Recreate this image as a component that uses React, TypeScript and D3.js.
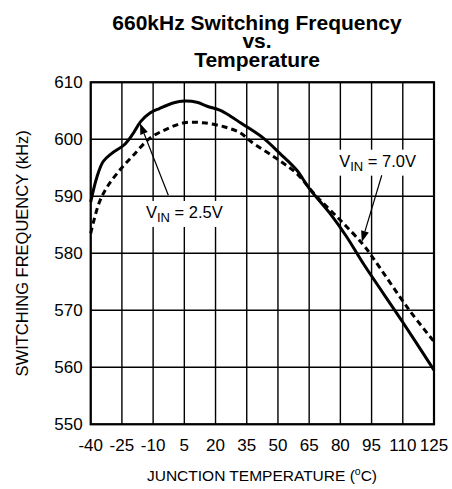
import React from "react";
import * as d3 from "d3";

const titleLines = ["660kHz Switching Frequency", "vs.", "Temperature"];
const xTicks = [-40, -25, -10, 5, 20, 35, 50, 65, 80, 95, 110, 125];
const yTicks = [550, 560, 570, 580, 590, 600, 610];

// VIN = 2.5V (solid)
const solidT = [-40, -37, -34, -30, -24, -20, -16, -11.5, -7, 0, 5, 11, 16, 22, 27, 32, 35, 43, 51, 59, 65, 75, 83, 91, 110, 125];
const solidV = [589.0, 593.4, 596.1, 597.5, 599.0, 600.8, 603.1, 604.6, 605.4, 606.4, 606.7, 606.5, 605.8, 605.1, 604.1, 602.9, 602.2, 600.2, 597.5, 594.6, 591.4, 587.0, 582.9, 578.2, 567.9, 559.5];

// VIN = 7.0V (dashed)
const dashT = [-40, -36, -32, -26, -19.5, -11.5, -3.5, 5, 14, 24, 32, 37, 49, 59, 68, 80, 91, 97, 113, 125];
const dashV = [583.5, 588.8, 591.7, 594.6, 597.2, 600.2, 601.8, 602.9, 602.9, 602.2, 601.1, 599.6, 596.7, 594.0, 590.2, 585.8, 581.5, 578.5, 570.1, 564.5];

// annotations (data units)
const annoLabels = ["2.5V", "7.0V"];
const annoLabelT = [5.0, 97.9];
const annoLabelV = [586.2, 595.2];
const arrowFromT = [-2.7, 99.9];
const arrowFromV = [590.2, 593.7];
const arrowToT = [-16.3, 90.3];
const arrowToV = [602.8, 582.0];

const W = 452, H = 489;
const M = { left: 90.7, right: 434, top: 82.3, bottom: 424.3 };
const FONT = "'Liberation Sans', Arial, Helvetica, sans-serif";

export default function App() {
  const x = d3.scaleLinear().domain([-40, 125]).range([M.left, M.right]);
  const y = d3.scaleLinear().domain([550, 610]).range([M.bottom, M.top]);
  const line = d3.line<[number, number]>().x(d => x(d[0])).y(d => y(d[1])).curve(d3.curveCatmullRom.alpha(0.5));
  const solidPts = solidT.map((t, i) => [t, solidV[i]] as [number, number]);
  const dashPts = dashT.map((t, i) => [t, dashV[i]] as [number, number]);

  const arrows = annoLabels.map((_, i) => {
    const x1 = x(arrowFromT[i]), y1 = y(arrowFromV[i]);
    const x2 = x(arrowToT[i]), y2 = y(arrowToV[i]);
    const ang = Math.atan2(y2 - y1, x2 - x1);
    const len = 11, hw = 4;
    const bx = x2 - len * Math.cos(ang), by = y2 - len * Math.sin(ang);
    const px = -Math.sin(ang) * hw, py = Math.cos(ang) * hw;
    return { x1, y1, bx, by, x2, y2, head: `${x2},${y2} ${bx + px},${by + py} ${bx - px},${by - py}` };
  });

  return (
    <svg width={W} height={H} style={{ position: "absolute", left: 0, top: 0, background: "#fff" }} fontFamily={FONT}>
      <rect x={0} y={0} width={W} height={H} fill="#fff" />
      {titleLines.map((t, i) => (
        <text key={t} x={257} y={30 + i * 18.3} textAnchor="middle" fontWeight="bold" fontSize={21}>{t}</text>
      ))}
      {/* grid */}
      {xTicks.map(t => (
        <line key={"gx" + t} x1={x(t)} x2={x(t)} y1={M.top} y2={M.bottom} stroke="#000" strokeWidth={1.4} />
      ))}
      {yTicks.map(v => (
        <line key={"gy" + v} x1={M.left} x2={M.right} y1={y(v)} y2={y(v)} stroke="#000" strokeWidth={1.4} />
      ))}
      <rect x={M.left} y={M.top} width={M.right - M.left} height={M.bottom - M.top} fill="none" stroke="#000" strokeWidth={2.2} />
      {/* ticks */}
      {yTicks.map(v => (
        <text key={"ty" + v} x={M.left - 8} y={y(v) + 6} textAnchor="end" fontSize={17}>{v}</text>
      ))}
      {xTicks.map(t => (
        <text key={"tx" + t} x={x(t)} y={M.bottom + 27} textAnchor="middle" fontSize={17}>{t}</text>
      ))}
      {/* curves */}
      <path d={line(solidPts) || ""} fill="none" stroke="#000" strokeWidth={3} />
      <path d={line(dashPts) || ""} fill="none" stroke="#000" strokeWidth={3} strokeDasharray="6,4" />
      {/* annotations */}
      {annoLabels.map((lab, i) => {
        const cx = x(annoLabelT[i]), by = y(annoLabelV[i]);
        return (
          <g key={lab}>
            <rect x={cx - 41} y={by - 17} width={82} height={26} fill="#fff" />
            <text x={cx} y={by} textAnchor="middle" fontSize={16.5}>
              <tspan>V</tspan>
              <tspan fontSize={13} dy={4}>IN</tspan>
              <tspan dy={-4}>{" = " + lab}</tspan>
            </text>
          </g>
        );
      })}
      {arrows.map((a, i) => (
        <g key={"ar" + i}>
          <line x1={a.x1} y1={a.y1} x2={a.bx} y2={a.by} stroke="#000" strokeWidth={1.2} />
          <polygon points={a.head} fill="#000" />
        </g>
      ))}
      {/* axis titles */}
      <text transform={`translate(28,${(M.top + M.bottom) / 2}) rotate(-90)`} textAnchor="middle" fontSize={16.5}>SWITCHING FREQUENCY (kHz)</text>
      <text x={262} y={481} textAnchor="middle" fontSize={15.5}>
        JUNCTION TEMPERATURE (<tspan fontSize={10.5} dy={-6}>o</tspan><tspan dy={6}>C)</tspan>
      </text>
    </svg>
  );
}
